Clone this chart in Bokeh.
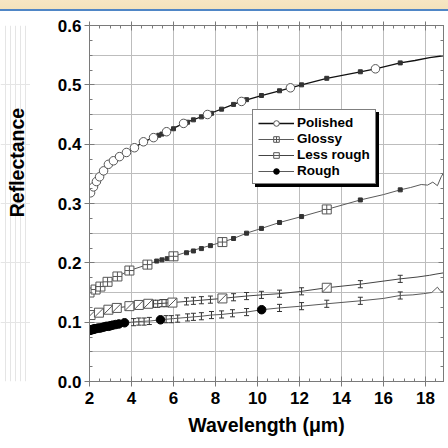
import math
from bokeh.plotting import figure
from bokeh.models import (ColumnDataSource, LinearAxis, FixedTicker, SingleIntervalTicker, Legend,
                          LegendItem, Whisker, TeeHead, Range1d, Grid, NumeralTickFormatter, Div)
from bokeh.core.properties import value
from bokeh.layouts import column, row
from bokeh.embed import file_html
from bokeh.resources import INLINE

FONT = "Liberation Sans"

# axis ticks
x_ticks = [2, 4, 6, 8, 10, 12, 14, 16, 18]
y_ticks = [0.0, 0.1, 0.2, 0.3, 0.4, 0.5, 0.6]

# ---- Polished ----
pol_x = [2.0, 2.05, 2.19, 2.33, 2.48, 2.67, 2.90, 3.14, 3.43, 3.76, 4.14, 4.57, 5.05, 5.67, 6.48,
         7.62, 8.86, 9.24, 10.19, 11.05, 11.57, 12.1, 13.3, 14.9, 15.62, 16.8, 17.5, 18.2, 18.85]
pol_y = [0.315, 0.318, 0.328, 0.337, 0.345, 0.355, 0.366, 0.372, 0.379, 0.386, 0.394, 0.404, 0.411,
         0.421, 0.435, 0.450, 0.467, 0.472, 0.482, 0.490, 0.495, 0.500, 0.511, 0.522, 0.527, 0.537,
         0.541, 0.546, 0.549]
pol_mx = [2.05, 2.19, 2.33, 2.48, 2.67, 2.90, 3.14, 3.43, 3.76, 4.14, 4.57, 5.05, 5.67, 6.48, 7.62,
          9.24, 11.57, 15.62]
pol_my = [0.318, 0.328, 0.337, 0.345, 0.355, 0.366, 0.372, 0.379, 0.386, 0.394, 0.404, 0.411, 0.421,
          0.435, 0.450, 0.472, 0.495, 0.527]
pol_sx = [5.3, 5.45, 6.0, 6.67, 6.95, 7.33, 7.81, 8.29, 8.86, 9.48, 10.19, 11.05, 12.1, 13.3, 14.9, 16.8]
pol_sy = [0.415, 0.417, 0.426, 0.437, 0.441, 0.446, 0.452, 0.459, 0.467, 0.475, 0.482, 0.490, 0.500,
          0.511, 0.522, 0.537]

# ---- Glossy ----
glo_x = [2.0, 2.29, 2.52, 2.86, 3.33, 3.9, 4.76, 5.2, 5.7, 6.0, 6.62, 7.33, 8.33, 8.86, 9.48, 10.19,
         11.05, 12.1, 13.3, 14.9, 16.0, 16.8, 17.3, 17.8, 18.1, 18.35, 18.57, 18.75, 18.85]
glo_y = [0.150, 0.155, 0.160, 0.168, 0.177, 0.187, 0.197, 0.203, 0.207, 0.211, 0.218, 0.225, 0.235,
         0.241, 0.250, 0.258, 0.268, 0.278, 0.290, 0.306, 0.315, 0.323, 0.327, 0.332, 0.331, 0.336,
         0.330, 0.345, 0.351]
glo_mx = [2.0, 2.29, 2.52, 2.86, 3.33, 3.9, 4.76, 6.0, 8.33, 13.3]
glo_my = [0.150, 0.155, 0.160, 0.168, 0.177, 0.187, 0.197, 0.211, 0.235, 0.290]
glo_sx = [5.2, 5.45, 5.7, 6.62, 6.95, 7.33, 7.76, 8.86, 9.48, 10.19, 11.05, 12.1, 14.9, 16.8]
glo_sy = [0.203, 0.205, 0.207, 0.217, 0.220, 0.224, 0.229, 0.241, 0.250, 0.258, 0.268, 0.278, 0.306, 0.323]

# ---- Less rough ----
les_x = [2.0, 2.05, 2.45, 2.9, 3.3, 3.9, 4.35, 4.8, 5.2, 5.95, 6.62, 7.33, 8.33, 8.86, 9.48, 10.19,
         11.05, 12.1, 13.3, 14.9, 16.8, 17.6, 18.2, 18.5, 18.85]
les_y = [0.111, 0.112, 0.116, 0.121, 0.124, 0.127, 0.129, 0.131, 0.131, 0.133, 0.135, 0.137, 0.140,
         0.142, 0.144, 0.146, 0.148, 0.152, 0.158, 0.164, 0.173, 0.176, 0.179, 0.181, 0.183]
les_mx = [2.05, 2.45, 2.9, 3.3, 3.9, 4.35, 4.8, 5.95, 8.33, 13.3]
les_my = [0.112, 0.116, 0.121, 0.124, 0.127, 0.129, 0.131, 0.133, 0.140, 0.158]
les_ex = [5.05, 5.25, 5.45, 5.65, 6.62, 6.95, 7.33, 7.76, 8.86, 9.48, 10.19, 11.05, 12.1, 14.9, 16.8]
les_ey = [0.131, 0.131, 0.132, 0.132, 0.135, 0.136, 0.137, 0.138, 0.142, 0.144, 0.146, 0.148, 0.152,
          0.164, 0.173]

# ---- Rough ----
rou_x = [2.0, 2.3, 2.6, 3.0, 3.4, 3.7, 4.3, 4.9, 5.38, 6.0, 6.67, 7.33, 7.81, 8.29, 8.81, 9.48, 10.2,
         11.05, 12.1, 13.3, 14.9, 16.0, 16.8, 17.4, 17.9, 18.3, 18.57, 18.7, 18.85]
rou_y = [0.086, 0.089, 0.091, 0.094, 0.097, 0.099, 0.101, 0.102, 0.104, 0.106, 0.108, 0.110, 0.112,
         0.113, 0.115, 0.117, 0.121, 0.124, 0.127, 0.131, 0.136, 0.140, 0.145, 0.146, 0.148, 0.150,
         0.159, 0.153, 0.151]
rou_mx = [2.0, 2.05, 2.1, 2.15, 2.2, 2.25, 2.3, 2.4, 2.5, 2.6, 2.7, 2.8, 2.9, 3.0, 3.1, 3.25, 3.4,
          3.67, 5.38, 10.2]
rou_my = [0.086, 0.087, 0.087, 0.088, 0.088, 0.089, 0.089, 0.090, 0.090, 0.091, 0.092, 0.093, 0.093,
          0.094, 0.095, 0.096, 0.097, 0.099, 0.104, 0.121]
rou_ex = [4.1, 4.35, 4.6, 4.85, 5.65, 5.9, 6.2, 6.67, 6.95, 7.33, 7.81, 8.29, 8.81, 9.48, 11.05, 12.1,
          13.3, 14.9, 16.8]
rou_ey = [0.100, 0.101, 0.101, 0.102, 0.105, 0.105, 0.106, 0.108, 0.109, 0.110, 0.112, 0.113, 0.115,
          0.117, 0.124, 0.127, 0.131, 0.136, 0.145]

ERR = 0.006
AX = "#7a7a7a"

x_minor = [round(2 + 0.5 * i, 2) for i in range(34)]
y_minor = [round(0.025 * i, 3) for i in range(25)]

# header band above the chart
band = Div(text="", width=448, height=11, margin=(0, 0, 0, 0),
           styles={"background": "linear-gradient(to bottom, #f6e6c3 0px, #f3e2bc 9px, "
                                 "#4f86c6 9px, #4f86c6 11px)"})

y_range = Range1d(0, 0.6)

# narrow strip holding the vertical axis title
lab = figure(width=30, height=437, x_range=Range1d(0, 30), y_range=y_range,
             output_backend="svg", toolbar_location=None,
             min_border_left=0, min_border_right=0, min_border_top=14, min_border_bottom=67,
             x_axis_location=None, y_axis_location=None, outline_line_color=None)
lab.text(x=[16], y=[0.369], text=["Reflectance"], angle=math.pi / 2,
         text_align="center", text_baseline="middle", text_font=value(FONT),
         text_font_style="bold", text_font_size="19.5px", text_color="black")

p = figure(width=418, height=437, x_range=Range1d(2, 18.86), y_range=y_range,
           output_backend="svg", toolbar_location=None,
           min_border_left=59, min_border_right=5, min_border_top=14, min_border_bottom=67,
           x_axis_location=None, y_axis_location=None, outline_line_color=AX)

p.add_layout(Grid(dimension=0, ticker=FixedTicker(ticks=x_ticks),
                  grid_line_color="#bdbdbd", grid_line_width=1))
p.add_layout(Grid(dimension=1, ticker=SingleIntervalTicker(interval=0.05),
                  grid_line_color="#bdbdbd", grid_line_width=1))


def style_axis(ax, labels=True):
    ax.axis_line_color = AX
    ax.major_tick_line_color = AX
    ax.minor_tick_line_color = AX
    ax.major_tick_in = 5
    ax.major_tick_out = 5
    ax.minor_tick_in = 3
    ax.minor_tick_out = 0
    if labels:
        ax.major_label_text_font = FONT
        ax.major_label_text_font_style = "bold"
        ax.major_label_text_font_size = "17px"
        ax.major_label_text_color = "black"
    else:
        ax.major_label_text_font_size = "1px"
        ax.major_label_text_color = None
        ax.major_label_standoff = 0
        ax.major_tick_out = 0


xb = LinearAxis(ticker=FixedTicker(ticks=x_ticks, minor_ticks=x_minor),
                axis_label="Wavelength (\u03bcm)")
style_axis(xb)
xb.major_label_standoff = 5
xb.axis_label_text_font = FONT
xb.axis_label_text_font_style = "bold"
xb.axis_label_text_font_size = "19.5px"
xb.axis_label_text_color = "black"
xb.axis_label_standoff = 7
p.add_layout(xb, "below")

yl = LinearAxis(ticker=FixedTicker(ticks=y_ticks, minor_ticks=y_minor),
                formatter=NumeralTickFormatter(format="0.0"))
style_axis(yl)
yl.major_label_standoff = 3
p.add_layout(yl, "left")

xt = LinearAxis(ticker=FixedTicker(ticks=x_ticks, minor_ticks=x_minor))
style_axis(xt, labels=False)
xt.major_tick_out = 4
p.add_layout(xt, "above")
yr = LinearAxis(ticker=FixedTicker(ticks=y_ticks, minor_ticks=y_minor))
style_axis(yr, labels=False)
p.add_layout(yr, "right")

# curves
pol_line = p.line(pol_x, pol_y, line_color="#111111", line_width=1.3)
glo_line = p.line(glo_x, glo_y, line_color="#5a5a5a", line_width=1)
les_line = p.line(les_x, les_y, line_color="#444444", line_width=1)
rou_line = p.line(rou_x, rou_y, line_color="#5a5a5a", line_width=1)

# error bars
for ex, ey in ((les_ex, les_ey), (rou_ex, rou_ey)):
    src = ColumnDataSource(dict(x=ex, upper=[v + ERR for v in ey], lower=[v - ERR for v in ey]))
    p.add_layout(Whisker(source=src, base="x", upper="upper", lower="lower",
                         line_color="#333333", line_width=1,
                         upper_head=TeeHead(size=5, line_color="#333333", line_width=1),
                         lower_head=TeeHead(size=5, line_color="#333333", line_width=1)))

# small markers
p.scatter(pol_sx, pol_sy, marker="square", size=4, fill_color="#333333", line_color="#333333")
p.scatter(glo_sx, glo_sy, marker="square", size=4, fill_color="#333333", line_color="#333333")

# main markers
pol_pts = p.scatter(pol_mx, pol_my, marker="circle", size=8.5, fill_color="white",
                    line_color="#555555", line_width=1)
glo_pts = p.scatter(glo_mx, glo_my, marker="square_cross", size=9, fill_color="white",
                    line_color="#555555", line_width=1)
les_pts = p.scatter(les_mx, les_my, marker="square", size=9, fill_color="white",
                    line_color="#555555", line_width=1)
les_slash = p.scatter(les_mx, les_my, marker="dash", size=12, angle=math.pi / 4,
                      line_color="#555555", line_width=1)
rou_pts = p.scatter(rou_mx, rou_my, marker="circle", size=8.5, fill_color="black",
                    line_color="black")


def make_items():
    return [
        LegendItem(label="Polished", renderers=[pol_line, pol_pts]),
        LegendItem(label="Glossy", renderers=[glo_line, glo_pts]),
        LegendItem(label="Less rough", renderers=[les_line, les_pts, les_slash]),
        LegendItem(label="Rough", renderers=[rou_line, rou_pts]),
    ]


def make_legend(loc, fill, text_color):
    return Legend(items=make_items(), location=loc, orientation="vertical",
                  glyph_width=36, glyph_height=14, label_height=14, label_standoff=3,
                  spacing=1, padding=5, margin=0,
                  label_text_font=FONT, label_text_font_style="bold",
                  label_text_font_size="13.5px", label_text_color=text_color,
                  background_fill_color=fill, background_fill_alpha=1,
                  border_line_color="black", border_line_width=1)


# drop shadow, then the legend itself
p.add_layout(make_legend((166, 194), "black", None))
p.add_layout(make_legend((163, 197), "white", "black"))

layout = column(band, row(lab, p, spacing=0), spacing=0)
open("out.html", "w").write(file_html(layout, INLINE))
